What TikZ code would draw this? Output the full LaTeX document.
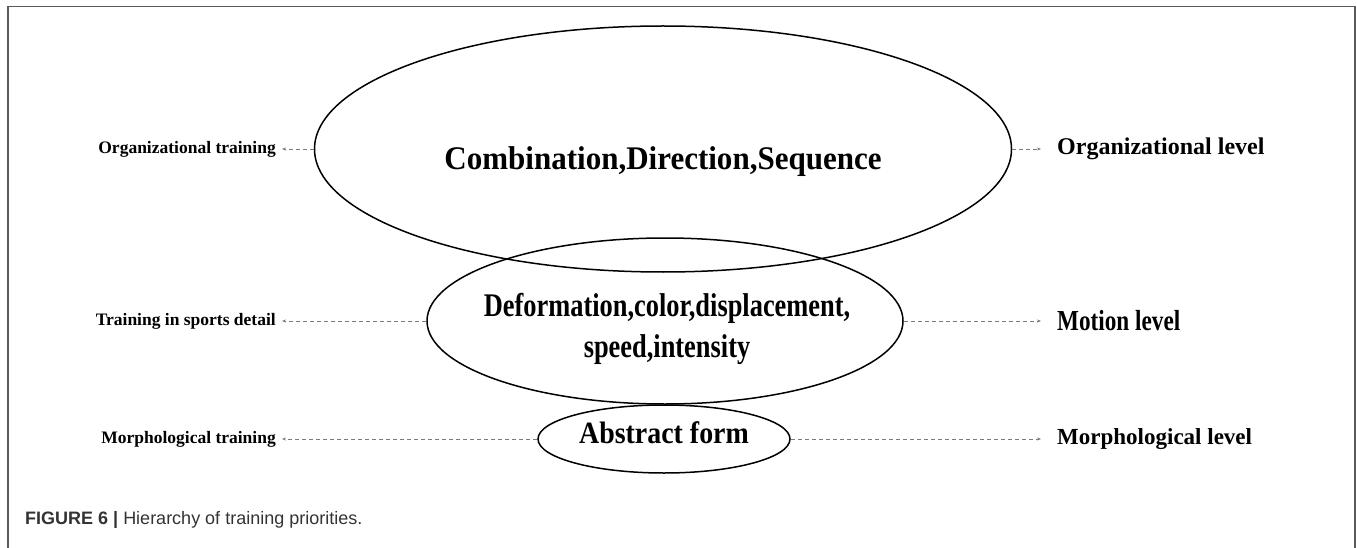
\documentclass[tikz,border=0pt]{standalone}
\usepackage{fontspec}
\setmainfont{Liberation Serif}
\setsansfont{Liberation Sans}
\newfontfamily\wideserif[FakeStretch=0.94]{Liberation Serif}
\newfontfamily\narrowserif[FakeStretch=0.8]{Liberation Serif}
\newfontfamily\formserif[FakeStretch=0.9]{Liberation Serif}
\usetikzlibrary{shapes.geometric,arrows.meta}
\definecolor{framegray}{HTML}{5A5A5A}
\definecolor{linkgray}{HTML}{7A7A7A}
\definecolor{captgray}{HTML}{333333}

\begin{document}
\begin{tikzpicture}[x=1pt,y=-1pt,
  level/.style={draw,ellipse,line width=1.5pt,inner sep=0pt},
  ltxt/.style={font=\fontsize{17.5}{20}\selectfont\bfseries,inner sep=0pt,anchor=east},
  rtxt/.style={font=\fontsize{24}{28}\selectfont\bfseries,inner sep=0pt,anchor=west},
  link/.style={draw=linkgray,line width=0.7pt,dash pattern=on 4pt off 3pt,-{Stealth[length=4pt,width=3pt]}}]
\useasboundingbox (0,0) rectangle (1357,548);
\draw[framegray,line width=1.6pt] (8,548) -- (8,6.5) -- (1355,6.5) -- (1355,548);
\coordinate (lx) at (276,0);
\coordinate (rx) at (1057,0);

\node[level,minimum width=697pt,minimum height=246pt] (org) at (663,149) {};
\node[level,minimum width=476pt,minimum height=166pt] (mot) at (665,321) {};
\node[level,minimum width=252pt,minimum height=68pt] (morph) at (664,439) {};

\node[font=\wideserif\fontsize{33}{36}\selectfont\bfseries,anchor=base] (orgtxt) at (663,170) {Combination,Direction,Sequence};
\node[font=\narrowserif\fontsize{33}{41}\selectfont\bfseries,align=center] (mottxt) at (667,329) {Deformation,color,displacement,\\speed,intensity};
\node[font=\formserif\fontsize{31}{34}\selectfont\bfseries,anchor=base] (morphtxt) at (664,443) {Abstract form};

\node[ltxt] (orgtrain) at (org.west -| lx) {Organizational training};
\node[ltxt] (mottrain) at (mot.west -| lx) {Training in sports detail};
\node[ltxt] (morphtrain) at (morph.west -| lx) {Morphological training};
\node[rtxt] (orglev) at (org.east -| rx) {Organizational level};
\node[rtxt,font=\narrowserif\fontsize{29}{32}\selectfont\bfseries] (motlev) at (mot.east -| rx) {Motion level};
\node[rtxt,font=\fontsize{23}{26}\selectfont\bfseries] (morphlev) at (morph.east -| rx) {Morphological level};

\foreach \e/\l/\r in {org/orgtrain/orglev,mot/mottrain/motlev,morph/morphtrain/morphlev} {
  \draw[link,shorten >=6pt] (\e.west) -- (\l.east);
  \draw[link,shorten >=16pt] (\e.east) -- (\r.west);
}

\node[font=\sffamily\fontsize{18}{21}\selectfont,text=captgray,anchor=base west,inner sep=0pt] (caption) at (25,524) {\textbf{FIGURE 6 |} Hierarchy of training priorities.};
\end{tikzpicture}
\end{document}
